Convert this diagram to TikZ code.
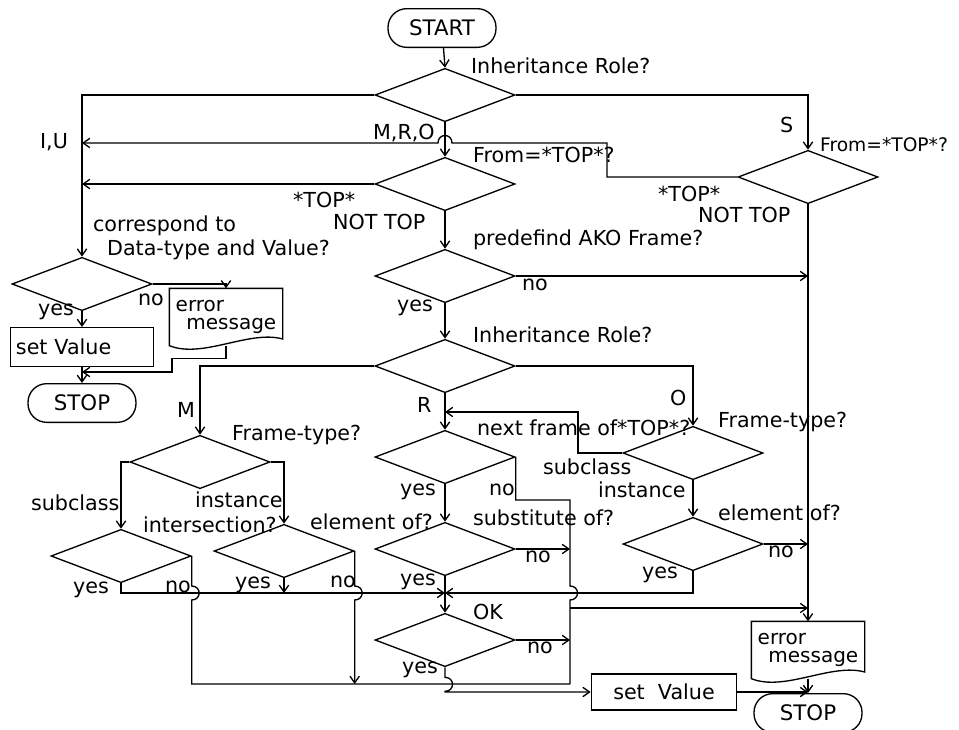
\documentclass[tikz,border=0pt]{standalone}
\usepackage{fontspec}
\setmainfont{DejaVu Sans}
\usetikzlibrary{shapes.geometric,arrows.meta}

\tikzset{
	decision/.style={diamond,draw,minimum width=105pt,minimum height=40pt,inner sep=0pt},
	terminal/.style={draw,rounded corners=14pt,minimum width=81pt,minimum height=29pt,inner sep=0pt,font=\fontsize{16}{18}\selectfont},
	process/.style={draw,minimum height=29pt,inner sep=4pt},
	docbox/.style={minimum width=84pt,minimum height=42pt,inner sep=0pt,align=left,font=\fontsize{15}{14}\selectfont},
	arr/.style={-{Straight Barb[length=5pt,width=7pt]}},
}

\begin{document}
\begin{tikzpicture}[x=0.75pt,y=-0.75pt,line width=1pt,font=\fontsize{15.5}{17}\selectfont]
	\useasboundingbox (0,0) rectangle (959,729);
	
	% main column
	\node[terminal] (start) at (442,28) {START};
	\node[decision] (d1) at (445,95) {};
	\node[decision] (d2) at (445,184) {};
	\node[decision] (dS) at (808,177) {};
	\node[decision] (d3) at (445,276) {};
	\node[decision] (d4) at (445,366) {};
	
	% left column
	\node[decision] (dL) at (82,284) {};
	\node[process,text width=99pt,align=left] (setL) at (82,347) {set Value};
	\node[docbox] (errL) at (226,317) {error\\\hspace*{8pt}message};
	\node[terminal] (stopL) at (82,403) {STOP};
	
	% M, R, O
	\node[decision] (dM) at (200,462) {};
	\node[decision] (dMs) at (121,556) {};
	\node[decision] (dMi) at (284,551) {};
	\node[decision] (dR) at (445,457) {};
	\node[decision] (dRs) at (445,549) {};
	\node[decision] (dOK) at (445,640) {};
	\node[decision] (dO) at (693,453) {};
	\node[decision] (dOi) at (693,544) {};
	
	\node[process,minimum width=109pt,minimum height=27pt] (setR) at (664,692) {set\ \ Value};
	\node[docbox] (errR) at (808,650) {error\\\hspace*{8pt}message};
	\node[terminal] (stopR) at (808,713) {STOP};
	
	% wavy bottoms of the two documents
	\draw (errL.north west) -- (errL.north east) -- ([yshift=5pt]errL.south east)
		.. controls ([xshift=-25pt,yshift=12pt]errL.south east) and ([xshift=25pt,yshift=-10pt]errL.south west) .. (errL.south west) -- cycle;
	\draw (errR.north west) -- (errR.north east) -- ([yshift=5pt]errR.south east)
		.. controls ([xshift=-25pt,yshift=12pt]errR.south east) and ([xshift=25pt,yshift=-10pt]errR.south west) .. (errR.south west) -- cycle;
	
	% questions
	\node[anchor=west] (q1) at (466,66) {Inheritance Role?};
	\node[anchor=west] (q2) at (468,155) {From=*TOP*?};
	\node[anchor=west,font=\fontsize{14}{16}\selectfont] (qS) at (815,145) {From=*TOP*?};
	\node[anchor=west] (q3) at (468,240) {predefind AKO Frame?};
	\node[anchor=west] (q4) at (468,335) {Inheritance Role?};
	\node[anchor=west] (qL1) at (88,226) {correspond to};
	\node[anchor=west] (qL2) at (102,250) {Data-type and Value?};
	\node[anchor=west] (qM) at (227,435) {Frame-type?};
	\node[anchor=west] (qMs) at (138,525) {intersection?};
	\node[anchor=west] (qMi) at (305,522) {element of?};
	\node[anchor=west] (qR) at (472,428) {next frame of*TOP*?};
	\node[anchor=west] (qRs) at (468,518) {substitute of?};
	\node[anchor=west] (qOK) at (468,612) {OK};
	\node[anchor=west] (qO) at (713,422) {Frame-type?};
	\node[anchor=west] (qOi) at (713,513) {element of?};
	
	% branch labels
	\node[anchor=west] (iuL) at (35,142) {I,U};
	\node[anchor=west] (mroL) at (368,133) {M,R,O};
	\node[anchor=west] (sL) at (775,125) {S};
	\node[anchor=west] (top2L) at (288,200) {*TOP*};
	\node[anchor=west] (nt2L) at (328,222) {NOT TOP};
	\node[anchor=west] (topSL) at (653,194) {*TOP*};
	\node[anchor=west] (ntSL) at (693,215) {NOT TOP};
	\node[anchor=west] (no3L) at (517,285) {no};
	\node[anchor=west] (yes3L) at (392,308) {yes};
	\node[anchor=west] (mL) at (172,410) {M};
	\node[anchor=west] (rL) at (412,405) {R};
	\node[anchor=west] (oL) at (665,398) {O};
	\node[anchor=west] (subOL) at (538,467) {subclass};
	\node[anchor=west] (insOL) at (593,490) {instance};
	\node[anchor=west] (noOiL) at (763,552) {no};
	\node[anchor=west] (yesOiL) at (637,575) {yes};
	\node[anchor=west] (subML) at (26,503) {subclass};
	\node[anchor=west] (insML) at (190,500) {instance};
	\node[anchor=west] (yesMsL) at (68,590) {yes};
	\node[anchor=west] (noMsL) at (160,587) {no};
	\node[anchor=west] (yesMiL) at (230,585) {yes};
	\node[anchor=west] (noMiL) at (325,582) {no};
	\node[anchor=west] (yesRL) at (395,492) {yes};
	\node[anchor=west] (noRL) at (484,490) {no};
	\node[anchor=west] (noRsL) at (520,557) {no};
	\node[anchor=west] (yesRsL) at (395,582) {yes};
	\node[anchor=west] (noOKL) at (522,648) {no};
	\node[anchor=west] (yesOKL) at (397,670) {yes};
	\node[anchor=west] (noLL) at (133,300) {no};
	\node[anchor=west] (yesLL) at (33,312) {yes};
	
	% bend points
	\coordinate (back) at (607,143);
	\coordinate (iu) at (82,143);
	\coordinate (loop) at (578,412);
	\coordinate (okin) at (445,593);
	\coordinate (busT) at (570,500);
	\coordinate (busE) at (570,608);
	\coordinate (busB) at (570,684);
	\coordinate (joinL) at (82,372);
	
	% top part
	\draw[arr] (start) -- (d1.north);
	\draw[arr] (d1.west) -| (dL.north);
	\draw[arr] (d1.east) -| (dS.north);
	\draw[arr] (d1.south) -- (d2.north);
	\draw[arr] (dS.west) -| (back) -- (452,143) .. controls +(0,-10) and +(0,-10) .. (438,143) -- (iu);
	\draw[arr] (d2.west) -- (dL.north |- d2.west);
	\draw[arr] (d2.south) -- (d3.north);
	\draw[arr] (d3.east) -- (dS.south |- d3.east);
	\draw[arr] (d3.south) -- (d4.north);
	\draw[arr] (dS.south) -- (errR.north);
	
	% left part
	\draw[arr] (dL.east) -| (errL.north);
	\draw[arr] (dL.south) -- (setL.north);
	\draw[arr] (setL.south) -- (stopL.north);
	\draw[arr] (errL.south) -- ++(0,13) -| (172,372) -- (joinL);
	
	% M
	\draw[arr] (d4.west) -| (dM.north);
	\draw[arr] (dM.west) -| (dMs.north);
	\draw[arr] (dM.east) -| (dMi.north);
	\draw[arr] (dMs.south) |- (okin);
	\draw[arr] (dMi.south) -- (dMi.south |- okin);
	\draw (dMs.east) -- ++(0,30) .. controls +(10,0) and +(10,0) .. ++(0,14) -- (dMs.east |- busB) -- (busB);
	\draw[arr] (dMi.east) -- ++(0,35) .. controls +(10,0) and +(10,0) .. ++(0,14) -- (dMi.east |- busB);
	
	% R
	\draw[arr] (d4.south) -- (dR.north);
	\draw[arr] (dR.south) -- (dRs.north);
	\draw[arr] (dRs.south) -- (dOK.north);
	\draw (dR.east) |- (busT) -- (570,586) .. controls +(10,0) and +(10,0) .. (570,600) -- (busB);
	\draw[arr] (dRs.east) -- (busT |- dRs.east);
	\draw[arr] (dOK.east) -- (busT |- dOK.east);
	\draw[arr] (busE) -- (errR.north |- busE);
	\draw[arr] (dOK.south) -- ++(0,10) .. controls +(10,0) and +(10,0) .. ++(0,14) |- (setR.west);
	\draw[arr] (setR.east) -- (errR.south |- setR.east);
	\draw[arr] (errR.south) -- (stopR.north);
	
	% O
	\draw[arr] (d4.east) -| (dO.north);
	\draw[arr] (dO.west) -| (loop) -- (dR.north |- loop);
	\draw[arr] (dO.south) -- (dOi.north);
	\draw[arr] (dOi.east) -- (dS.south |- dOi.east);
	\draw[arr] (dOi.south) |- (okin);
\end{tikzpicture}
\end{document}
